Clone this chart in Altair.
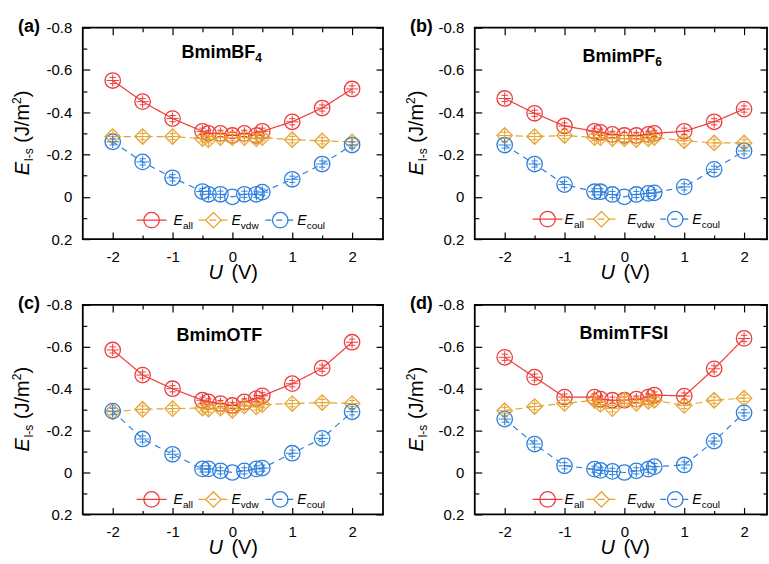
import altair as alt
import pandas as pd

# Applied potential (V)
U = [-2, -1.5, -1, -0.5, -0.4, -0.2, 0, 0.2, 0.4, 0.5, 1, 1.5, 2]

# Interfacial energies E_l-s (J/m^2) for each ionic liquid
BF4_ALL = [-0.55, -0.45, -0.37, -0.31, -0.30, -0.30, -0.29, -0.30, -0.29, -0.31, -0.355, -0.42, -0.51]
BF4_VDW = [-0.285, -0.285, -0.285, -0.275, -0.27, -0.28, -0.28, -0.28, -0.275, -0.28, -0.27, -0.265, -0.26]
BF4_COUL = [-0.26, -0.165, -0.09, -0.025, -0.012, -0.012, 0.0, -0.012, -0.012, -0.022, -0.083, -0.155, -0.245]

PF6_ALL = [-0.465, -0.395, -0.335, -0.31, -0.305, -0.295, -0.29, -0.29, -0.295, -0.30, -0.31, -0.355, -0.415]
PF6_VDW = [-0.29, -0.285, -0.29, -0.28, -0.28, -0.275, -0.275, -0.27, -0.275, -0.28, -0.265, -0.255, -0.255]
PF6_COUL = [-0.245, -0.155, -0.058, -0.024, -0.024, -0.011, 0.0, -0.011, -0.016, -0.019, -0.047, -0.13, -0.217]

OTF_ALL = [-0.585, -0.465, -0.40, -0.345, -0.337, -0.329, -0.32, -0.337, -0.353, -0.366, -0.424, -0.498, -0.622]
OTF_VDW = [-0.29, -0.302, -0.305, -0.308, -0.303, -0.308, -0.297, -0.318, -0.313, -0.324, -0.329, -0.334, -0.329]
OTF_COUL = [-0.293, -0.16, -0.087, -0.017, -0.017, -0.008, 0.0, -0.008, -0.017, -0.021, -0.092, -0.163, -0.29]

TFSI_ALL = [-0.55, -0.455, -0.36, -0.36, -0.35, -0.345, -0.345, -0.35, -0.36, -0.37, -0.365, -0.495, -0.64]
TFSI_VDW = [-0.295, -0.315, -0.33, -0.345, -0.325, -0.305, -0.345, -0.33, -0.34, -0.345, -0.32, -0.345, -0.355]
TFSI_COUL = [-0.255, -0.136, -0.032, -0.016, -0.01, -0.005, 0.0, -0.008, -0.016, -0.028, -0.036, -0.15, -0.285]

SERIES = ["all", "vdw", "coul"]
RED, GOLD, BLUE = "#ef3b3b", "#e6a431", "#2d7fdd"
FONT = "Liberation Sans"
DASHES = [[1, 0], [7, 4], [6, 5]]
CROSS = "M0,-0.8L0,0.8M-0.8,0L0.8,0M-0.4,-0.4L0.4,-0.4M-0.4,0.4L0.4,0.4"

ONE = pd.DataFrame({"k": [0]})


def long_table(e_all, e_vdw, e_coul):
    rows = []
    for key, vals in zip(SERIES, (e_all, e_vdw, e_coul)):
        for u, e in zip(U, vals):
            rows.append({"U": u, "E": e, "S": key})
    return pd.DataFrame(rows)


def lab_expr(fmt):
    return ("datum.value == 0 ? '0' : (datum.value < 0 ? '-' : '') + "
            f"format(abs(datum.value), '{fmt}')")


def axis(orient, values, size, labels=False, fmt="d", pad=0):
    kw = dict(orient=orient, values=values, tickSize=size, offset=-size,
              domain=False, grid=False, title=None, labels=labels,
              tickColor="black", tickWidth=1.2)
    if labels:
        kw.update(labelExpr=lab_expr(fmt), labelPadding=pad, labelFont=FONT,
                  labelFontSize=15, labelColor="black", labelFlush=False,
                  labelOverlap=False)
    return alt.Axis(**kw)


def txt(x, y, s, size, italic=False, bold=False, angle=0):
    return alt.Chart(ONE).mark_text(
        text=s, font=FONT, fontSize=size,
        fontStyle="italic" if italic else "normal",
        fontWeight="bold" if bold else "normal",
        align="left", baseline="alphabetic", angle=angle, color="black",
    ).encode(x=alt.value(x), y=alt.value(y))


def panel(df, width, height, name, sub, sub_dx, name_x, name_y, label, leg_y,
          sym_x, txt_x, ytitle_x, anchor=False):
    xmax = -2.5 + width / 60.0
    xs = alt.Scale(domain=[-2.5, xmax], nice=False, zero=False)
    ys = alt.Scale(domain=[-0.8, 0.2], reverse=True, nice=False, zero=False)
    color = alt.Color("S:N", scale=alt.Scale(domain=SERIES, range=[RED, GOLD, BLUE]), legend=None)

    x_major = [-2, -1, 0, 1, 2]
    x_minor = [-1.5, -0.5, 0.5, 1.5]
    y_major = [-0.8, -0.6, -0.4, -0.2, 0, 0.2]
    y_minor = [-0.7, -0.5, -0.3, -0.1, 0.1]

    lines = alt.Chart(df).mark_line(strokeWidth=1.2).encode(
        x=alt.X("U:Q", scale=xs, axis=axis("bottom", x_major, 7, True, "d", 10)),
        y=alt.Y("E:Q", scale=ys, axis=axis("left", y_major, 7, True, ".1f", 11)),
        color=color,
        strokeDash=alt.StrokeDash("S:N", scale=alt.Scale(domain=SERIES, range=DASHES), legend=None),
    )
    points = alt.Chart(df).mark_point(filled=False, size=240, strokeWidth=1.3, opacity=1).encode(
        x=alt.X("U:Q", scale=xs, axis=axis("bottom", x_minor, 4)),
        y=alt.Y("E:Q", scale=ys, axis=axis("left", y_minor, 4)),
        color=color,
        shape=alt.Shape("S:N", scale=alt.Scale(domain=SERIES, range=["circle", "diamond", "circle"]), legend=None),
    )
    crosses = alt.Chart(df).transform_filter("datum.E != 0").mark_point(
        shape=CROSS, size=240, filled=False, strokeWidth=1.0, opacity=1
    ).encode(
        x=alt.X("U:Q", scale=xs, axis=axis("top", x_major, 7)),
        y=alt.Y("E:Q", scale=ys, axis=axis("right", y_major, 7)),
        color=color,
    )
    ghost = alt.Chart(df).mark_point(opacity=0).encode(
        x=alt.X("U:Q", scale=xs, axis=axis("top", x_minor, 4)),
        y=alt.Y("E:Q", scale=ys, axis=axis("right", y_minor, 4)),
    )
    layers = [lines, points, crosses, ghost]

    # in-plot legend
    subs = ["all", "vdw", "coul"]
    shapes = ["circle", "diamond", "circle"]
    for i, col in enumerate([RED, GOLD, BLUE]):
        sx = sym_x[i]
        layers.append(alt.Chart(ONE).mark_rule(color=col, strokeWidth=1.2, strokeDash=DASHES[i]).encode(
            x=alt.value(sx - 15), x2=alt.value(sx + 15), y=alt.value(leg_y)))
        layers.append(alt.Chart(ONE).mark_point(shape=shapes[i], size=240, filled=False, color=col,
                                                 strokeWidth=1.3, opacity=1).encode(
            x=alt.value(sx), y=alt.value(leg_y)))
        layers.append(txt(txt_x[i], leg_y + 5, "E", 14, italic=True))
        layers.append(txt(txt_x[i] + 9.5, leg_y + 8.5, subs[i], 10))

    # compound name, with its subscript
    layers.append(txt(name_x, name_y, name, 18, bold=True))
    if sub:
        layers.append(txt(name_x + sub_dx, name_y + 4, sub, 12, bold=True))

    # panel letter
    layers.append(txt(-65, 4, label, 18, bold=True))

    # y-axis title: E_l-s (J/m^2), written bottom to top
    start = height / 2 + 42
    layers.append(txt(ytitle_x, start, "E", 20, italic=True, angle=270))
    y1 = start - 14.3
    layers.append(txt(ytitle_x + 4, y1, "l-s", 12, angle=270))
    y2 = y1 - 12.7 - 5.6
    layers.append(txt(ytitle_x, y2, "(J/m", 20, angle=270))
    y3 = y2 - 38.9
    layers.append(txt(ytitle_x - 8, y3, "2", 12, angle=270))
    layers.append(txt(ytitle_x, y3 - 6.7, ")", 20, angle=270))

    # x-axis title: U (V)
    layers.append(txt(126, height + 40, "U", 20, italic=True))
    layers.append(txt(149, height + 40, "(V)", 20))

    if anchor:
        layers.append(alt.Chart(ONE).mark_rule(color="white", strokeWidth=0.5).encode(
            x=alt.value(-81), x2=alt.value(-80), y=alt.value(-25)))

    return alt.layer(*layers).resolve_axis(x="independent", y="independent").properties(
        width=width, height=height)


LEFT_SYM, LEFT_TXT = [69, 131, 198], [91, 149, 215]
RIGHT_SYM, RIGHT_TXT = [73, 127, 201], [90, 153, 218]

pa = panel(long_table(BF4_ALL, BF4_VDW, BF4_COUL), 301, 212, "BmimBF", "4", 74, 99, 30, "(a)", 193,
           LEFT_SYM, LEFT_TXT, -54, anchor=True)
pb = panel(long_table(PF6_ALL, PF6_VDW, PF6_COUL), 293, 212, "BmimPF", "6", 73, 108, 34, "(b)", 192,
           RIGHT_SYM, RIGHT_TXT, -52)
pc = panel(long_table(OTF_ALL, OTF_VDW, OTF_COUL), 301, 210, "BmimOTF", None, 0, 94, 36, "(c)", 195,
           LEFT_SYM, LEFT_TXT, -54)
pd_ = panel(long_table(TFSI_ALL, TFSI_VDW, TFSI_COUL), 293, 210, "BmimTFSI", None, 0, 105, 34, "(d)", 195,
            RIGHT_SYM, RIGHT_TXT, -52)

chart = alt.concat(pa, pb, pc, pd_, columns=2, spacing={"row": 66, "column": 92}, bounds="flush").properties(
    padding=0
).configure_view(stroke="black", strokeWidth=1.8)

chart.save("out.html", embed_options={"renderer": "svg", "actions": False})
